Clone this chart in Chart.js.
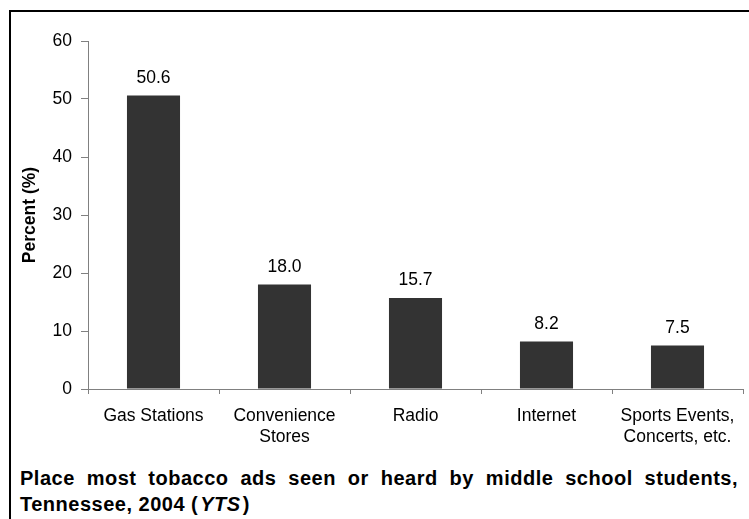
<!DOCTYPE html>
<html>
<head>
<meta charset="utf-8">
<script src="https://cdn.jsdelivr.net/npm/chart.js@4"></script>
<style>
  html, body { margin: 0; padding: 0; background: #fff; overflow: hidden; }
  #wrap { position: relative; width: 749px; height: 519px; }
  #frame { position: absolute; left: 9px; top: 10px; width: 800px; height: 600px;
           border-top: 2px solid #000; border-left: 2px solid #000; box-sizing: border-box; }
  #chartBox { position: absolute; left: 0; top: 0; width: 749px; height: 460px; }
  #caption { position: absolute; left: 20px; top: 465px; width: 718px;
             font: bold 20px "Liberation Sans", Arial, sans-serif; line-height: 26px;
             letter-spacing: 0.5px; text-align: justify; color: #000; }
  #caption i { padding: 0 2px; }
</style>
</head>
<body>
<div id="wrap">
  <div id="frame"></div>
  <div id="chartBox"><canvas id="adsChart" width="749" height="460"></canvas></div>
  <div id="caption">Place most tobacco ads seen or heard by middle school students, Tennessee, 2004 (<i>YTS</i>)</div>
</div>
<script>
// ---- data ----
const categories = [
  "Gas Stations",
  ["Convenience", "Stores"],
  "Radio",
  "Internet",
  ["Sports Events,", "Concerts, etc."]
];
const percentValues = [50.6, 18.0, 15.7, 8.2, 7.5];
const yTicks = [0, 10, 20, 30, 40, 50, 60];

const FONT = '"Liberation Sans", Arial, sans-serif';

// labels above the bars
const valueLabels = {
  id: 'valueLabels',
  afterDatasetsDraw(chart) {
    const ctx = chart.ctx;
    const meta = chart.getDatasetMeta(0);
    ctx.save();
    ctx.font = '17.5px ' + FONT;
    ctx.fillStyle = '#000';
    ctx.textAlign = 'center';
    ctx.textBaseline = 'alphabetic';
    meta.data.forEach((bar, i) => {
      ctx.fillText(percentValues[i].toFixed(1), bar.x, bar.y - 12.5);
    });
    ctx.restore();
  }
};

new Chart(document.getElementById('adsChart'), {
  type: 'bar',
  data: {
    labels: categories,
    datasets: [{
      data: percentValues,
      backgroundColor: '#333333',
      borderWidth: 0,
      categoryPercentage: 1,
      barPercentage: 0.405
    }]
  },
  options: {
    responsive: false,
    animation: false,
    layout: { padding: { left: 0, top: 41, right: 6, bottom: 11 } },
    plugins: { legend: { display: false }, tooltip: { enabled: false } },
    scales: {
      x: {
        grid: { display: true, drawOnChartArea: false, drawTicks: true, tickLength: 5, color: '#808080', offset: true },
        border: { color: '#808080', width: 1 },
        ticks: { color: '#000', padding: 12, maxRotation: 0, autoSkip: false,
                 font: { family: FONT, size: 17.5, lineHeight: 1.2 } },
        afterFit(scale) { scale.height = 60; }
      },
      y: {
        min: 0,
        max: 60,
        afterBuildTicks(scale) { scale.ticks = yTicks.map(v => ({ value: v })); },
        grid: { display: true, drawOnChartArea: false, drawTicks: true, tickLength: 7, color: '#808080' },
        border: { color: '#808080', width: 1 },
        ticks: { color: '#000', padding: 9, font: { family: FONT, size: 17.5 } },
        title: { display: true, text: 'Percent (%)', color: '#000',
                 padding: { top: 20, bottom: 0 },
                 font: { family: FONT, size: 17.5, weight: 'bold', lineHeight: 1.2 } },
        afterFit(scale) { scale.width = 88; }
      }
    }
  },
  plugins: [valueLabels]
});
</script>
</body>
</html>
